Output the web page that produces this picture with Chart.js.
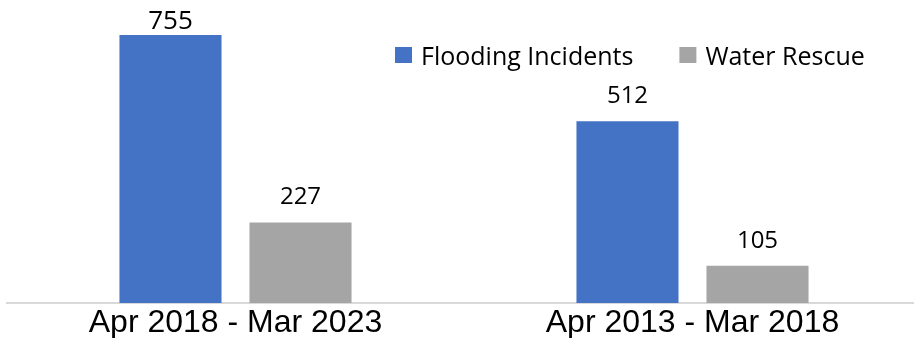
<!DOCTYPE html>
<html>
<head>
<meta charset="utf-8">
<script src="https://cdn.jsdelivr.net/npm/chart.js@4"></script>
<style>
  html, body { margin: 0; padding: 0; background: #fff; overflow: hidden; }
  #wrap { width: 921px; height: 338px; }
</style>
</head>
<body>
<div id="wrap"><canvas id="myChart"></canvas></div>
<script>
// データ
const periods = ["Apr 2018 - Mar 2023", "Apr 2013 - Mar 2018"];
const floodingIncidents = [755, 512];
const waterRescue = [227, 105];

const labelFont = "'Open Sans', 'Noto Sans', sans-serif";

// 棒の上に値を表示する（上端からはみ出さないように制限）
const valueLabels = {
  id: "valueLabels",
  afterDatasetsDraw(chart) {
    const ctx = chart.ctx;
    ctx.save();
    ctx.fillStyle = "#000";
    ctx.textAlign = "center";
    ctx.textBaseline = "alphabetic";
    chart.data.datasets.forEach(function (ds, i) {
      chart.getDatasetMeta(i).data.forEach(function (bar, j) {
        let y = bar.y - 18;
        if (y < 29) {
          y = 29;
          ctx.font = "26px " + labelFont;
        } else {
          ctx.font = "24px " + labelFont;
        }
        ctx.fillText(ds.data[j], bar.x, y);
      });
    });
    ctx.restore();
  },
};

// 右上の凡例
const topLegend = {
  id: "topLegend",
  afterDraw(chart) {
    const ctx = chart.ctx;
    ctx.save();
    ctx.font = "25px " + labelFont;
    ctx.textBaseline = "alphabetic";
    let x = 395;
    chart.data.datasets.forEach(function (ds) {
      ctx.fillStyle = ds.backgroundColor;
      ctx.fillRect(x, 47, 17, 16);
      ctx.fillStyle = "#000";
      ctx.fillText(ds.label, x + 26, 65);
      x += 26 + ctx.measureText(ds.label).width + 46;
    });
    ctx.restore();
  },
};

const ctx = document.getElementById("myChart").getContext("2d");
const myChart = new Chart(ctx, {
  type: "bar",
  data: {
    labels: periods,
    datasets: [
      {
        label: "Flooding Incidents",
        data: floodingIncidents,
        backgroundColor: "#4472C4",
        categoryPercentage: 0.569,
        barPercentage: 0.785,
      },
      {
        label: "Water Rescue",
        data: waterRescue,
        backgroundColor: "#A5A5A5",
        categoryPercentage: 0.569,
        barPercentage: 0.785,
      },
    ],
  },
  options: {
    responsive: true,
    maintainAspectRatio: false,
    animation: false,
    layout: { padding: { top: 35, left: 7, right: 0, bottom: -5 } },
    plugins: {
      legend: { display: false },
      tooltip: { enabled: false },
    },
    scales: {
      x: {
        grid: { display: false, drawTicks: false },
        border: { display: true, color: "#D9D9D9", width: 2 },
        ticks: {
          color: "#000",
          padding: 4,
          font: { family: "'Liberation Sans', Arial, sans-serif", size: 32, lineHeight: 1.0 },
        },
      },
      y: {
        display: false,
        min: 0,
        max: 755,
      },
    },
  },
  plugins: [valueLabels, topLegend],
});
</script>
</body>
</html>
